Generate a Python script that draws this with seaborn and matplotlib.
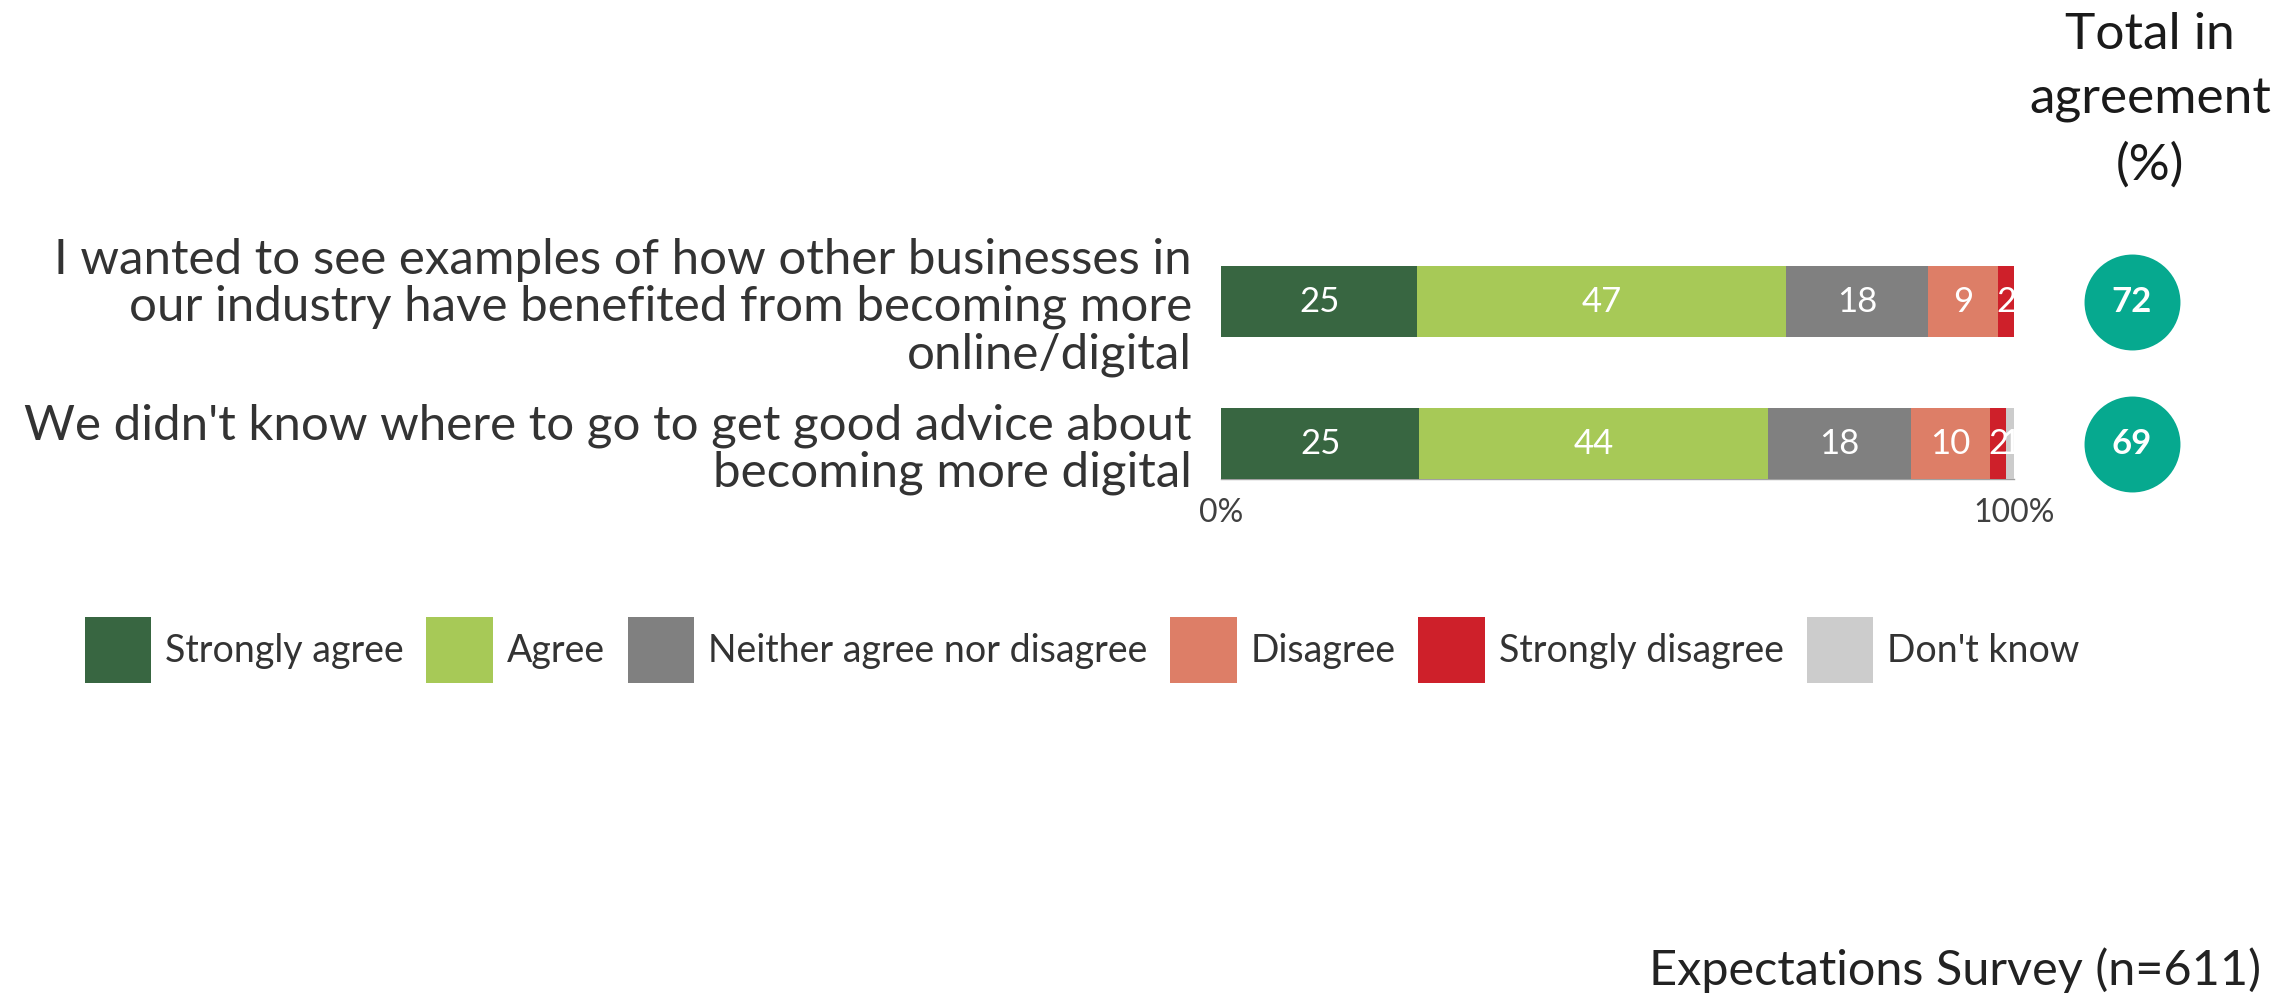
import numpy as np
import pandas as pd
import matplotlib
matplotlib.use("Agg")
import matplotlib.pyplot as plt
from matplotlib.patches import Patch
import seaborn as sns

# ---- data -------------------------------------------------------------
statements = [
    "I wanted to see examples of how other businesses in\n"
    "our industry have benefited from becoming more\n"
    "online/digital",
    "We didn't know where to go to get good advice about\n"
    "becoming more digital",
]
responses = ["Strongly agree", "Agree", "Neither agree nor disagree",
             "Disagree", "Strongly disagree", "Don't know"]
strongly_agree = [25, 25]
agree = [47, 44]
neither = [18, 18]
disagree = [9, 10]
strongly_disagree = [2, 2]
dont_know = [0, 1]
total_in_agreement = [72, 69]
tick_labels = ["0%", "100%"]

# ---- style ------------------------------------------------------------
colors = ["#386641", "#A7C957", "#808080", "#DD7E67", "#CE202A", "#CCCCCC"]
TEAL = "#06A98F"
TEXT = "#333333"

sns.set_theme(style="white")
plt.rcParams["font.family"] = ["Lato", "DejaVu Sans"]

W, H = 2275, 1000
fig = plt.figure(figsize=(W / 100, H / 100), dpi=100)


def fx(px):
    return px / W


def fy(py):
    return 1 - py / H


# 100% stacked bars
ax = fig.add_axes([fx(1221), fy(479), fx(2014) - fx(1221), (479 - 230.5) / H])

values = np.array([strongly_agree, agree, neither, disagree,
                   strongly_disagree, dont_know], dtype=float)
shares = values / values.sum(axis=0) * 100
cum = shares.cumsum(axis=0)

df = pd.DataFrame({"statement": statements})
for i in range(len(responses) - 1, -1, -1):
    df["end"] = cum[i]
    sns.barplot(data=df, x="end", y="statement", orient="h", color=colors[i],
                saturation=1, width=0.5, linewidth=0, ax=ax)

for i in range(len(responses)):
    for j in range(len(statements)):
        v = values[i, j]
        if v > 0:
            ax.text(cum[i, j] - shares[i, j] / 2, j, f"{v:.0f}",
                    ha="center", va="center", color="white", fontsize=25)

ax.set_xlim(0, 100)
ax.set_ylim(1.25, -0.5)
ax.set_xlabel("")
ax.set_ylabel("")
ax.set_xticks([0, 100])
ax.set_xticklabels(tick_labels)
ax.tick_params(axis="x", length=4, width=1, color="#808080", labelsize=23,
               labelcolor="#404040", pad=10)
ax.tick_params(axis="y", length=0, labelsize=35.5, labelcolor=TEXT, pad=21)
for lab in ax.get_yticklabels():
    lab.set_linespacing(1.08)
for side in ["top", "right", "left"]:
    ax.spines[side].set_visible(False)
ax.spines["bottom"].set_color("#A0A0A0")
ax.spines["bottom"].set_linewidth(1)
ax.spines["bottom"].set_zorder(0.5)

# total-in-agreement badges
ax2 = fig.add_axes([fx(2084), fy(479), fx(2180) - fx(2084), (479 - 230.5) / H])
badge = pd.DataFrame({"x": [0, 0], "y": [0, 1], "total": total_in_agreement})
sns.scatterplot(data=badge, x="x", y="y", s=4770, color=TEAL, linewidth=0,
                legend=False, clip_on=False, ax=ax2)
for j, t in enumerate(total_in_agreement):
    ax2.text(0, j, f"{t}", ha="center", va="center", color="white",
             fontsize=25, fontweight="bold")
ax2.set_xlim(-1, 1)
ax2.set_ylim(1.25, -0.5)
ax2.axis("off")

fig.text(fx(2150), fy(12), "Total in\nagreement\n(%)", ha="center", va="top",
         fontsize=37, linespacing=1.5, color="#1a1a1a")

fig.text(fx(2261), fy(985), "Expectations Survey (n=611)", ha="right",
         va="baseline", fontsize=35, color="#222222")

handles = [Patch(facecolor=c, edgecolor="none", label=r)
           for c, r in zip(colors, responses)]
fig.legend(handles=handles, loc="center", bbox_to_anchor=(fx(1082), fy(650)),
           ncol=6, frameon=False, fontsize=27, handlelength=1.78,
           handleheight=2.36, handletextpad=0.37, columnspacing=0.6,
           labelcolor=TEXT)

fig.savefig("out.png", dpi=100)
